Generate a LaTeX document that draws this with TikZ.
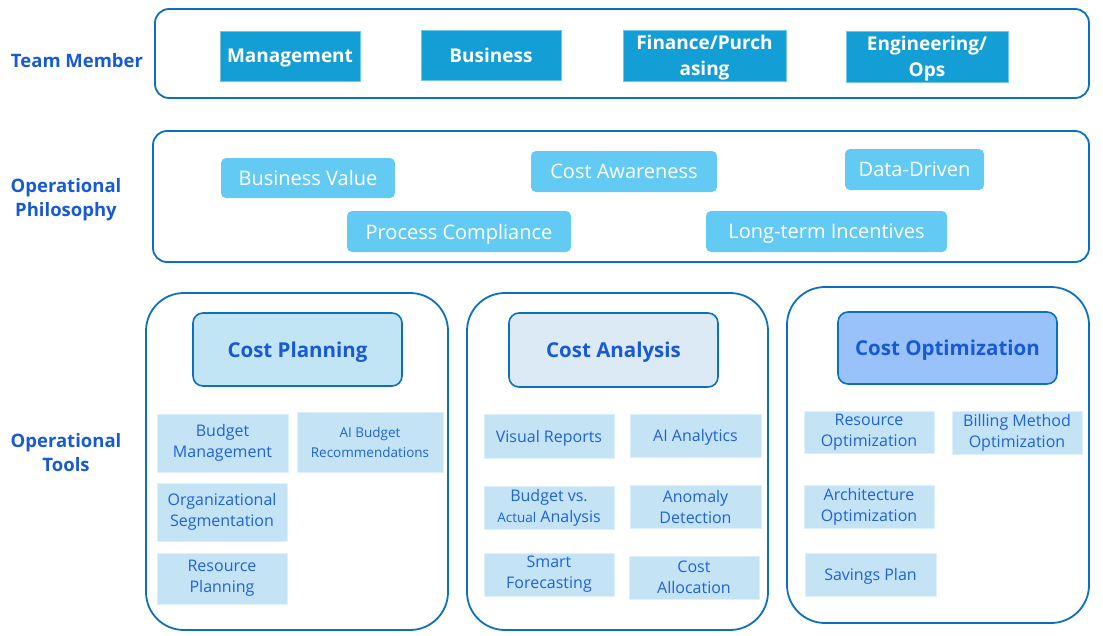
\documentclass[tikz,border=0pt]{standalone}
\usepackage{fontspec}
\setmainfont{Open Sans}
\definecolor{outl}{RGB}{12,112,193}
\definecolor{teamfill}{RGB}{19,159,214}
\definecolor{philfill}{RGB}{99,203,243}
\definecolor{subfill}{RGB}{196,228,246}
\definecolor{subline}{RGB}{222,240,251}
\definecolor{hdA}{RGB}{194,229,245}
\definecolor{hdB}{RGB}{220,234,246}
\definecolor{hdC}{RGB}{153,194,250}
\definecolor{lbl}{RGB}{24,90,212}
\definecolor{subtxt}{RGB}{30,98,218}
\newcommand\bx[7]{\node[#6, minimum width={#4-#2}, minimum height={#5-#3}] (#1) at ({(#2+#4)/2},{(#3+#5)/2}) {#7};}
\tikzset{
  panel/.style={draw=outl, line width=1.8pt, rounded corners=#1, inner sep=0pt},
  panel/.default=14pt,
  teambox/.style={fill=teamfill, draw=teamfill!60!white, line width=0.6pt, text=white, align=center, inner sep=0pt,
     text depth=0pt, font=\fontsize{19}{26}\selectfont\bfseries},
  philbox/.style={fill=philfill, rounded corners=5pt, text=white, align=center, inner sep=0pt,
     font=\fontsize{20}{24}\selectfont},
  hdbox/.style={draw=outl, line width=1.6pt, rounded corners=10pt, text=lbl, inner sep=0pt,
     font=\fontsize{20.5}{24}\selectfont\bfseries},
  subbox/.style={fill=subfill, draw=subline, line width=0.8pt, text=subtxt, align=center, inner sep=0pt,
     font=\fontsize{16}{21}\selectfont},
  sidelbl/.style={text=lbl, align=center, inner sep=0pt, font=\fontsize{18.5}{24}\selectfont\bfseries},
}
\begin{document}
\begin{tikzpicture}[x=1pt,y=-1pt]
\useasboundingbox (0,0) rectangle (1103,635);
% side labels
\node[sidelbl] (lteam) at (77,61) {Team Member};
\node[sidelbl] (lphil) at (66,200) {Operational\\Philosophy};
\node[sidelbl] (ltool) at (66,453) {Operational\\Tools};
% panels
\bx{pteam}{155}{9}{1089}{98}{panel}{}
\bx{pphil}{153}{131}{1089}{262}{panel}{}
\bx{pc1}{146}{293}{448}{630}{panel=38pt}{}
\bx{pc2}{467}{293}{768}{630}{panel=38pt}{}
\bx{pc3}{787}{287}{1089}{623}{panel=38pt}{}
% team members
\bx{tm1}{220}{31}{360}{81}{teambox}{Management}
\bx{tm2}{421}{30}{561}{80}{teambox}{Business}
\bx{tm3}{623}{30}{786}{81}{teambox}{Finance/Purch\\asing}
\bx{tm4}{846}{31}{1008}{82}{teambox}{Engineering/\\Ops}
% philosophy
\bx{ph1}{221}{158}{395}{198}{philbox,text depth=0pt}{Business Value}
\bx{ph2}{531}{151}{717}{192}{philbox,text depth=0pt}{Cost Awareness}
\bx{ph3}{845}{149}{984}{190}{philbox,text depth=0pt}{Data-Driven}
\bx{ph4}{347}{211}{571}{252}{philbox,text depth=0pt}{Process Compliance}
\bx{ph5}{706}{211}{947}{252}{philbox,text depth=0pt}{Long-term Incentives}
% headers
\bx{h1}{193}{313}{402}{386}{hdbox,fill=hdA,text depth=0pt}{Cost Planning}
\bx{h2}{509}{313}{718}{387}{hdbox,fill=hdB,text depth=0pt}{Cost Analysis}
\bx{h3}{838}{312}{1057}{384}{hdbox,fill=hdC,text depth=0pt}{Cost Optimization}
% column 1
\bx{a1}{157}{414}{288}{472}{subbox}{Budget\\Management}
\bx{a2}{297}{412}{443}{472}{subbox,font=\fontsize{13.5}{20}\selectfont}{AI Budget\\Recommendations}
\bx{a3}{157}{483}{287}{541}{subbox}{Organizational\\Segmentation}
\bx{a4}{157}{553}{287}{604}{subbox}{Resource\\Planning}
% column 2
\bx{b1}{484}{414}{614}{458}{subbox,text depth=0pt}{Visual Reports}
\bx{b2}{630}{414}{761}{457}{subbox,text depth=0pt}{AI Analytics}
\bx{b3}{484}{486}{614}{529}{subbox}{Budget vs.\\{\fontsize{13.5}{20}\selectfont Actual} Analysis}
\bx{b4}{630}{485}{761}{528}{subbox}{Anomaly\\Detection}
\bx{b5}{484}{553}{614}{596}{subbox}{Smart\\Forecasting}
\bx{b6}{629}{556}{759}{599}{subbox}{Cost\\Allocation}
% column 3
\bx{c1}{804}{411}{934}{453}{subbox}{Resource\\Optimization}
\bx{c2}{952}{411}{1082}{454}{subbox}{Billing Method\\Optimization}
\bx{c3}{804}{485}{934}{528}{subbox}{Architecture\\Optimization}
\bx{c4}{805}{553}{936}{596}{subbox,text depth=0pt}{Savings Plan}
\end{tikzpicture}
\end{document}
